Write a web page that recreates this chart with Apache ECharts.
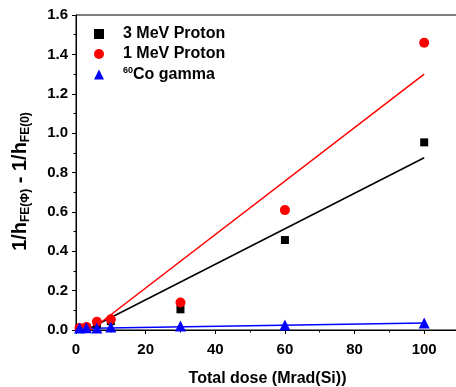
<!DOCTYPE html>
<html>
<head>
<meta charset="utf-8">
<script src="https://cdn.jsdelivr.net/npm/echarts@6/dist/echarts.min.js"></script>
<style>
  html, body { margin: 0; padding: 0; background: #fff; }
  #chart { width: 456px; height: 387px; }
</style>
</head>
<body>
<div id="chart"></div>
<script>
// measured points (dose in Mrad(Si))
const doses = [1, 3, 6, 10, 30, 60, 100];
const proton3 = [0.01, 0.012, 0.03, 0.045, 0.105, 0.457, 0.953];
const proton1 = [0.01, 0.015, 0.042, 0.054, 0.14, 0.609, 1.459];
const gamma = [0.01, 0.012, 0.01, 0.015, 0.02, 0.025, 0.035];

// linear fit endpoints
const fit3 = [[3, 0], [100, 0.875]];
const fit1 = [[4.3, 0], [100, 1.30]];
const fitG = [[0, 0.007], [100, 0.035]];

const FONT = 'Arial, "Liberation Sans", sans-serif';
const pairs = (ys) => doses.map((d, i) => [d, ys[i]]);

const chart = echarts.init(document.getElementById('chart'), null, { renderer: 'canvas' });

const axisCommon = {
  axisLine: { show: true, lineStyle: { color: '#000', width: 1 } },
  axisTick: { show: true, inside: false, length: 4, lineStyle: { color: '#000' } },
  minorTick: { show: true, splitNumber: 2, length: 2.5, lineStyle: { color: '#000' } },
  splitLine: { show: false },
  axisLabel: { color: '#000', fontFamily: FONT, fontWeight: 'bold', fontSize: 15 },
};

chart.setOption({
  backgroundColor: '#fff',
  animation: false,
  grid: {
    left: 76, right: -3, top: 15, bottom: 57, outerBoundsMode: 'none',
    show: true, borderColor: '#000', borderWidth: 1,
  },
  legend: {
    left: 89, top: 21, orient: 'vertical', itemGap: 4,
    itemWidth: 10, itemHeight: 10,
    data: ['3 MeV Proton', '1 MeV Proton', '60Co gamma'],
    textStyle: {
      color: '#000', fontFamily: FONT, fontWeight: 'bold', fontSize: 16, padding: [0, 0, 0, 14],
      rich: {
        sup: { fontSize: 9, fontWeight: 'bold', fontFamily: FONT, verticalAlign: 'top', padding: [0, 0, 8, 0] },
        t: { fontSize: 16, fontWeight: 'bold', fontFamily: FONT },
      },
    },
    formatter: (n) => n === '60Co gamma' ? '{sup|60}{t|Co gamma}' : n,
  },
  xAxis: {
    ...axisCommon,
    type: 'value', min: 0, max: 110, interval: 20,
    axisLabel: { ...axisCommon.axisLabel, margin: 12, showMaxLabel: false },
    name: 'Total dose (Mrad(Si))', nameLocation: 'middle', nameGap: 41,
    nameTextStyle: { color: '#000', fontFamily: FONT, fontWeight: 'bold', fontSize: 16 },
  },
  yAxis: {
    ...axisCommon,
    type: 'value', min: 0, max: 1.6, interval: 0.2,
    axisLabel: { ...axisCommon.axisLabel, margin: 8, formatter: (v) => v.toFixed(1) },
    name: '1/h{sub|FE(Φ)} - 1/h{sub|FE(0)}', nameLocation: 'middle', nameGap: 44, nameRotate: 90,
    nameTextStyle: {
      color: '#000', fontFamily: FONT, fontWeight: 'bold', fontSize: 20, padding: [0, 18, 0, 0],
      rich: { sub: { fontSize: 12, fontWeight: 'bold', fontFamily: FONT, verticalAlign: 'bottom', padding: [11, 0, 0, 0] } },
    },
  },
  series: [
    { name: '3 MeV Proton', type: 'scatter', symbol: 'rect', symbolSize: 8, itemStyle: { color: '#000', opacity: 1 }, data: pairs(proton3), z: 3 },
    { name: '1 MeV Proton', type: 'scatter', symbol: 'circle', symbolSize: 10, itemStyle: { color: '#ff0000', opacity: 1 }, data: pairs(proton1), z: 3 },
    { name: '60Co gamma', type: 'scatter', symbol: 'triangle', symbolSize: 11, itemStyle: { color: '#0000ff', opacity: 1 }, data: pairs(gamma), z: 4 },
    { name: 'fit3', type: 'line', symbol: 'none', lineStyle: { color: '#000', width: 1.5 }, data: fit3, z: 2 },
    { name: 'fit1', type: 'line', symbol: 'none', lineStyle: { color: '#ff0000', width: 1.5 }, data: fit1, z: 2 },
    { name: 'fitG', type: 'line', symbol: 'none', lineStyle: { color: '#0000ff', width: 1.5 }, data: fitG, z: 2 },
  ],
});
</script>
</body>
</html>
